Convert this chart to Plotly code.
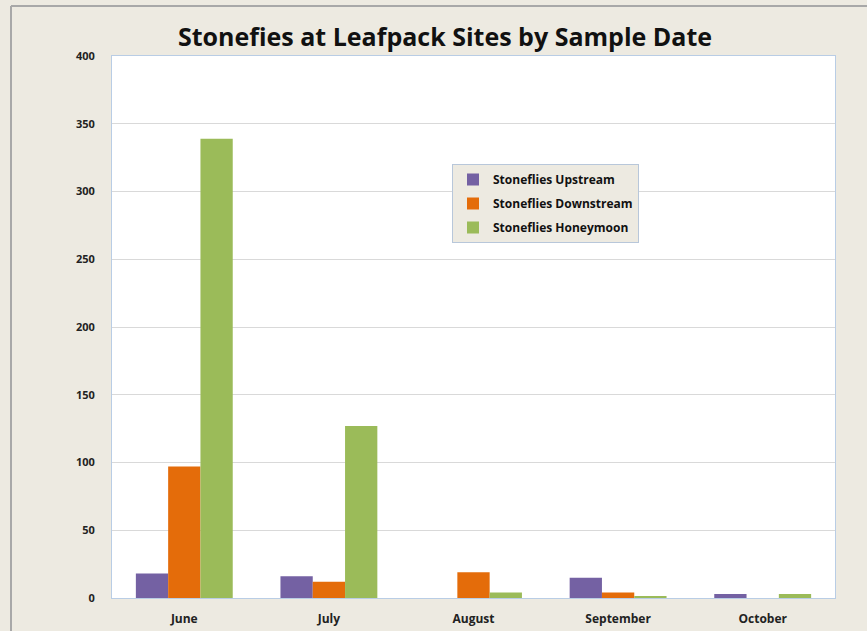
import plotly.graph_objects as go

months = ["June", "July", "August", "September", "October"]
upstream = [18, 16, 0, 15, 3]
downstream = [97, 12, 19, 4, 0]
honeymoon = [339, 127, 4, 1, 3]
y_ticks = [0, 50, 100, 150, 200, 250, 300, 350, 400]

series = [
    ("Stoneflies Upstream", upstream, "#7461A3"),
    ("Stoneflies Downstream", downstream, "#E46C0A"),
    ("Stoneflies Honeymoon", honeymoon, "#9BBB59"),
]

fig = go.Figure()
for i, (name, vals, color) in enumerate(series):
    fig.add_trace(go.Bar(x=months, y=vals, name=name, legendgroup=f"g{i}",
                         marker=dict(color=color, line=dict(width=0))))

W, H = 867, 631
L, R, T, B = 112, 32, 56, 33
pw, ph = W - L - R, H - T - B

def px(x):
    return (x - L) / pw

def py(y):
    return (H - B - y) / ph

font_family = "Open Sans, Liberation Sans, sans-serif"

fig.update_layout(
    width=W, height=H,
    margin=dict(l=L, r=R, t=T, b=B, autoexpand=False),
    paper_bgcolor="#EDEAE1",
    plot_bgcolor="#FFFFFF",
    barmode="group",
    bargap=0.33,
    bargroupgap=0,
    title=dict(text="<b>Stonefies at Leafpack Sites by Sample Date</b>",
               x=445 / W, xanchor="center", y=1 - 37 / H, yanchor="middle",
               font=dict(family=font_family, size=25, color="#111111")),
    font=dict(family=font_family, color="#222222"),
    legend=dict(x=px(452), y=py(164), xanchor="left", yanchor="top",
                bgcolor="#EDEAE1", bordercolor="#B8C7DA", borderwidth=1,
                font=dict(size=12, color="#111111", family=font_family, weight="bold"),
                itemwidth=30, tracegroupgap=5),
    showlegend=True,
    xaxis=dict(showgrid=False, tickfont=dict(size=12, family=font_family, color="#222222", weight="bold"),
               ticks="", showline=True, linecolor="#B9CDE5", linewidth=1, mirror=True,
               ticklabelstandoff=10),
    yaxis=dict(range=[0, 400], tickvals=y_ticks, showgrid=True, gridcolor="#D9D9D9",
               gridwidth=1, zeroline=False, showline=True, linecolor="#B9CDE5", linewidth=1,
               mirror=True, ticks="", tickfont=dict(size=11, family=font_family, color="#222222", weight="bold"),
               ticklabelstandoff=14),
)

fig.add_shape(type="line", xref="paper", yref="paper", x0=px(11), x1=px(W), y0=py(6), y1=py(6),
              line=dict(color="#A8A8A8", width=2))
fig.add_shape(type="line", xref="paper", yref="paper", x0=px(11), x1=px(11), y0=py(6), y1=py(H),
              line=dict(color="#A8A8A8", width=2))

fig.write_html("out.html", config={"displayModeBar": False},
               post_script="document.body.style.margin='0';")
